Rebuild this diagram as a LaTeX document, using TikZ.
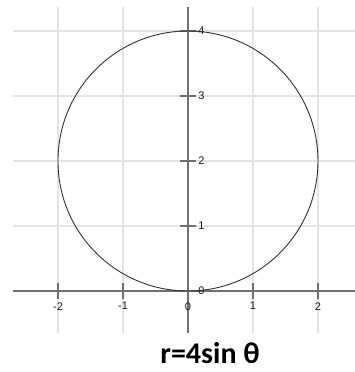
\documentclass[tikz,border=0pt]{standalone}
\usepackage{fontspec}
\setmainfont{Liberation Sans}
\newfontfamily\titlefont{Carlito}
\usepackage{tikz}
\usetikzlibrary{positioning, calc}

\definecolor{gridgray}{HTML}{E4E4E4}
\definecolor{axisgray}{HTML}{707070}
\definecolor{curvegray}{HTML}{333333}

\tikzset{
    gridline/.style={gridgray, line width=1.5pt},
    axisline/.style={axisgray, line width=2pt},
    ticklabel/.style={font=\fontsize{11}{12}\selectfont, text=black!90, inner sep=1pt}
}

\begin{document}
\begin{tikzpicture}[x=65pt,y=65pt]

        % Frame
        \useasboundingbox (-2.892,-1.246) rectangle (2.569,4.477);

        % Grid
        \foreach \x in {-2,-1,1,2}
            \draw[gridline] (\x,-0.646) -- (\x,4.37);
        \foreach \y in {1,2,3,4}
            \draw[gridline] (-2.69,\y) -- (2.569,\y);

        % Axes
        \draw[axisline] (-2.69,0) -- (2.569,0);
        \draw[axisline] (0,-0.646) -- (0,4.37);

        % X-axis ticks
        \foreach \x in {-2,-1,0,1,2}
            \draw[axisline, line width=1.2pt] (\x,0.12) -- (\x,-0.12) node[ticklabel, below=2pt] {\x};

        % Y-axis ticks
        \foreach \y in {0,1,2,3,4}
            \draw[axisline, line width=1.2pt] (-0.12,\y) -- (0.12,\y) node[ticklabel, right=1pt] {\y};

        % Curve
        \draw[curvegray, line width=0.9pt] (0,2) circle (2);

        % Plot Title
        \node[font=\titlefont\bfseries\fontsize{30}{34}\selectfont, anchor=base, inner sep=0pt] (title) at (0.34,-1.108) {r=4sin θ};

\end{tikzpicture}
\end{document}
